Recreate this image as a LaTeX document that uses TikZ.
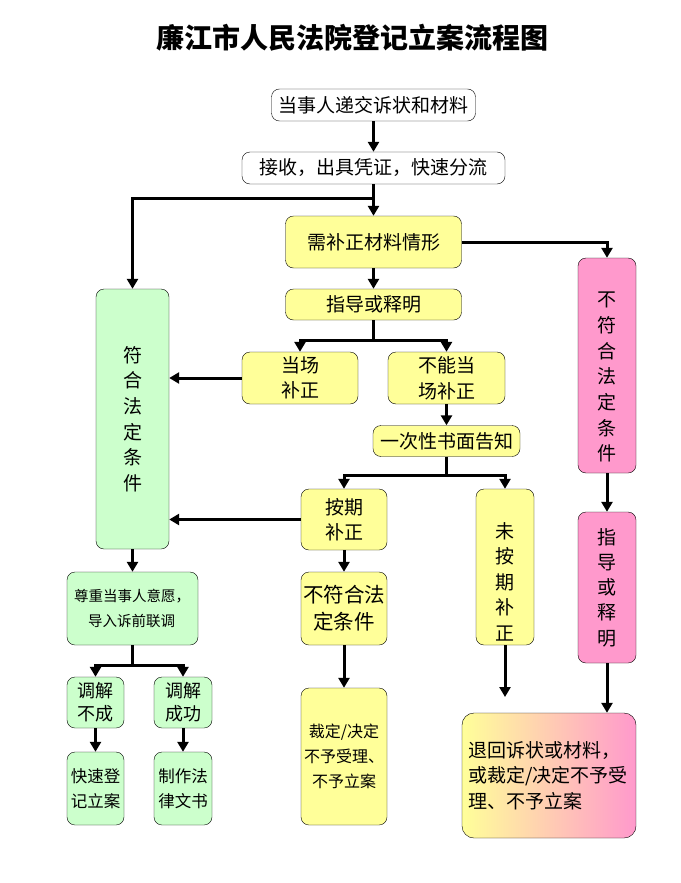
\documentclass[tikz,border=0pt]{standalone}
\usepackage{fontspec}
\newfontfamily\cjk{Noto Sans CJK SC}
\usepackage{tikz}
\usetikzlibrary{positioning}
\usetikzlibrary{arrows.meta}

\definecolor{yelfill}{HTML}{FFFF99}
\definecolor{grnfill}{HTML}{CCFFCC}
\definecolor{pnkfill}{HTML}{FF99CC}

\tikzset{
  box/.style={draw, thin, rounded corners=8pt, align=center, inner sep=0pt,
    font=\cjk\fontsize{19}{25.5}\selectfont},
  whtbox/.style={box, fill=white},
  yelbox/.style={box, fill=yelfill},
  grnbox/.style={box, fill=grnfill},
  pnkbox/.style={box, fill=pnkfill},
  flow/.style={-{Triangle[width=11pt,length=10pt]}, line width=3pt},
  link/.style={line width=3pt}
}

\begin{document}
\begin{tikzpicture}[x=1pt,y=-1pt]
	\path[fill=white, use as bounding box] (0,0) rectangle (680,883);

	\node (title) at (352,38) {\cjk\bfseries\fontsize{28}{30}\selectfont 廉江市人民法院登记立案流程图};

	% main line
	\node[whtbox, minimum width=204pt, minimum height=32pt] (submit) at (373.5,105) {当事人递交诉状和材料};
	\node[whtbox, minimum width=263pt, minimum height=32pt] (accept) at (373.5,168) {接收，出具凭证，快速分流};
	\node[yelbox, minimum width=176pt, minimum height=52pt] (need) at (373.5,242) {需补正材料情形};
	\node[yelbox, minimum width=176pt, minimum height=31pt] (guide) at (373.5,304.5) {指导或释明};
	\node[yelbox, minimum width=116pt, minimum height=52pt] (onsite) at (300,378) {当场\\补正};
	\node[yelbox, minimum width=117pt, minimum height=52pt] (notonsite) at (446.5,378) {不能当\\场补正};
	\node[yelbox, minimum width=147pt, minimum height=31pt] (notice) at (446.5,441) {一次性书面告知};
	\node[yelbox, minimum width=86pt, minimum height=61pt] (ontime) at (344,519.5) {按期\\补正};
	\node[yelbox, minimum width=58pt, minimum height=156pt] (late) at (505,567) {\rule{0pt}{45pt}未\\按\\期\\补\\正};
	\node[yelbox, minimum width=86pt, minimum height=73pt, font=\cjk\fontsize{20.5}{27}\selectfont] (notlegal) at (344,608.5) {不符合法\\定条件};
	\node[yelbox, minimum width=86pt, minimum height=137pt, font=\cjk\fontsize{16}{25}\selectfont] (refuse) at (344,756.5) {裁定/决定\\不予受理、\\不予立案};

	% left column
	\node[grnbox, minimum width=73pt, minimum height=260pt, font=\cjk\fontsize{19}{25.6}\selectfont] (legal) at (132.5,419) {符\\合\\法\\定\\条\\件};
	\node[grnbox, minimum width=131pt, minimum height=73pt, align=left, text width=117pt, font=\cjk\fontsize{14.5}{25}\selectfont] (mediate) at (132.5,608.5) {尊重当事人意愿，\\\hspace*{14pt}导入诉前联调};
	\node[grnbox, minimum width=57pt, minimum height=51pt, font=\cjk\fontsize{18}{23}\selectfont] (fail) at (95.5,702.5) {调解\\不成};
	\node[grnbox, minimum width=58pt, minimum height=51pt, font=\cjk\fontsize{18}{23}\selectfont] (succ) at (183,702.5) {调解\\成功};
	\node[grnbox, minimum width=57pt, minimum height=73pt, font=\cjk\fontsize{16.5}{25}\selectfont] (fast) at (95.5,788.5) {快速登\\记立案};
	\node[grnbox, minimum width=58pt, minimum height=73pt, font=\cjk\fontsize{16.5}{25}\selectfont] (doc) at (183,788.5) {制作法\\律文书};

	% right column
	\node[pnkbox, minimum width=58pt, minimum height=215pt, font=\cjk\fontsize{19}{25.7}\selectfont] (illegal) at (607,365.5) {\rule{0pt}{38pt}不\\符\\合\\法\\定\\条\\件};
	\node[pnkbox, minimum width=58pt, minimum height=151pt, font=\cjk\fontsize{19}{25.3}\selectfont] (explain) at (607,587.5) {指\\导\\或\\释\\明};
	\node[box, left color=yelfill, right color=pnkfill, minimum width=174pt, minimum height=125pt, rounded corners=12pt, align=left, text width=162pt] (reject) at (549,775.5) {退回诉状或材料，\\或裁定/决定不予受\\理、不予立案};

	% split points
	\coordinate (split1) at (373.5,198);
	\coordinate (split2) at (373.5,340);
	\coordinate (split3) at (446.5,475);
	\coordinate (split4) at (132.5,665);
	\coordinate (lateend) at (505,697);

	% connectors
	\draw[flow] (submit) -- (accept);
	\draw[flow] (accept) -- (need);
	\draw[flow] (split1) -| (legal.north);
	\draw[flow] (need.east) -| (illegal.north);
	\draw[flow] (need) -- (guide);
	\draw[link] (guide.south) -- (split2);
	\draw[flow] (split2) -| (onsite.north);
	\draw[flow] (split2) -| (notonsite.north);
	\draw[flow] (onsite.west) -- (onsite.west -| legal.east);
	\draw[flow] (notonsite) -- (notice);
	\draw[link] (notice.south) -- (split3);
	\draw[flow] (split3) -| (ontime.north);
	\draw[flow] (split3) -| (late.north);
	\draw[flow] (ontime.west) -- (ontime.west -| legal.east);
	\draw[flow] (ontime) -- (notlegal);
	\draw[flow] (notlegal) -- (refuse);
	\draw[flow] (late.south) -- (lateend);
	\draw[flow] (illegal) -- (explain);
	\draw[flow] (explain.south) -- (explain.south |- reject.north);
	\draw[flow] (legal) -- (mediate);
	\draw[link] (mediate.south) -- (split4);
	\draw[flow] (split4) -| (fail.north);
	\draw[flow] (split4) -| (succ.north);
	\draw[flow] (fail) -- (fast);
	\draw[flow] (succ) -- (doc);
\end{tikzpicture}
\end{document}
